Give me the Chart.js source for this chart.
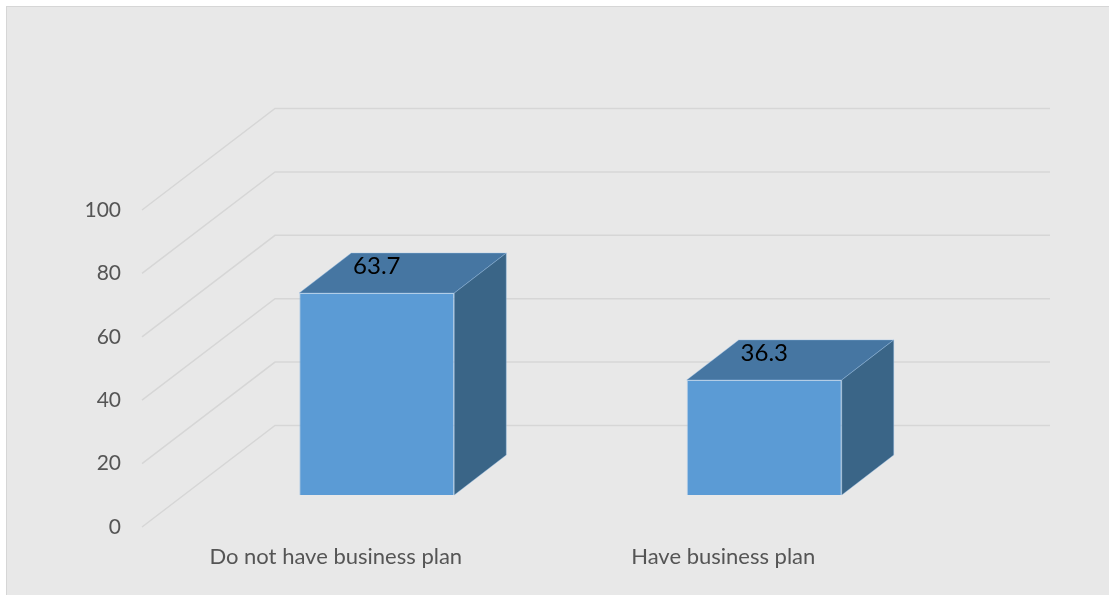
<!DOCTYPE html>
<html>
<head>
<meta charset="utf-8">
<script src="https://cdn.jsdelivr.net/npm/chart.js@4/dist/chart.umd.min.js"></script>
<style>
  html, body { margin: 0; padding: 0; background: #ffffff; }
  #panel {
    position: absolute; left: 6px; top: 6px; right: 0; bottom: 0;
    background: #e8e8e8;
    border-left: 1px solid #d6d6d6;
    border-top: 1px solid #d6d6d6;
  }
  #grafic { position: absolute; left: 0; top: 0; }
</style>
</head>
<body>
<div id="panel"></div>
<canvas id="grafic" width="1109" height="595"></canvas>
<script>
const categorii = ['Do not have business plan', 'Have business plan'];
const procente = [63.7, 36.3];
const tickuriY = [0, 20, 40, 60, 80, 100];

// adancimea peretelui din spate si pozitia/adancimea cutiilor
const PERETE_DX = 133, PERETE_DY = -101.5;
const BARA_DX = 41, BARA_DY = -32;
const CUTIE_DX = 52, CUTIE_DY = -40;

const culoareFata = '#5b9bd5';
const culoareSus = '#4676a2';
const culoareLateral = '#3a6587';
const culoareGrila = '#d6d6d6';
const fontText = 'Lato';

// pereti 3D: linie diagonala pe podea/lateral + linie orizontala pe spate
const perete3D = {
	id: 'perete3D',
	beforeDatasetsDraw(chart) {
		const { ctx, chartArea, scales } = chart;
		ctx.save();
		ctx.strokeStyle = culoareGrila;
		ctx.lineWidth = 1.5;
		for (let v of tickuriY) {
			const y = scales.y.getPixelForValue(v);
			ctx.beginPath();
			ctx.moveTo(chartArea.left, y);
			ctx.lineTo(chartArea.left + PERETE_DX, y + PERETE_DY);
			ctx.lineTo(chartArea.right + PERETE_DX, y + PERETE_DY);
			ctx.stroke();
		}
		ctx.restore();
		// fata barelor se deseneaza mutata in adancime
		ctx.save();
		ctx.translate(BARA_DX, BARA_DY);
	},
	afterDatasetsDraw(chart) {
		const { ctx } = chart;
		ctx.restore();
		const meta = chart.getDatasetMeta(0);
		meta.data.forEach((bara, i) => {
			const p = bara.getProps(['x', 'y', 'base', 'width'], true);
			const x0 = p.x - p.width / 2 + BARA_DX;
			const x1 = p.x + p.width / 2 + BARA_DX;
			const yTop = p.y + BARA_DY;
			const yBase = p.base + BARA_DY;
			ctx.save();
			ctx.lineWidth = 0.8;
			ctx.strokeStyle = 'rgba(150,190,230,0.5)';
			// capacul
			ctx.fillStyle = culoareSus;
			ctx.beginPath();
			ctx.moveTo(x0, yTop);
			ctx.lineTo(x0 + CUTIE_DX, yTop + CUTIE_DY);
			ctx.lineTo(x1 + CUTIE_DX, yTop + CUTIE_DY);
			ctx.lineTo(x1, yTop);
			ctx.closePath();
			ctx.fill();
			ctx.stroke();
			// partea laterala
			ctx.fillStyle = culoareLateral;
			ctx.beginPath();
			ctx.moveTo(x1, yTop);
			ctx.lineTo(x1 + CUTIE_DX, yTop + CUTIE_DY);
			ctx.lineTo(x1 + CUTIE_DX, yBase + CUTIE_DY);
			ctx.lineTo(x1, yBase);
			ctx.closePath();
			ctx.fill();
			ctx.stroke();
			// eticheta cu valoarea
			ctx.fillStyle = '#000000';
			ctx.font = `24px ${fontText}`;
			ctx.textAlign = 'center';
			ctx.textBaseline = 'middle';
			ctx.fillText(String(procente[i]), p.x + BARA_DX, yTop - 27);
			ctx.restore();
		});
	}
};

new Chart(document.getElementById('grafic'), {
	type: 'bar',
	data: {
		labels: categorii,
		datasets: [{
			label: 'Procent',
			data: procente,
			backgroundColor: culoareFata,
			borderColor: 'rgba(140,185,230,0.5)',
			borderWidth: 1,
			barPercentage: 0.4,
			categoryPercentage: 1
		}]
	},
	options: {
		responsive: false,
		animation: false,
		devicePixelRatio: 1,
		layout: { padding: { left: 86, right: 192, top: 210, bottom: 26 } },
		plugins: { legend: { display: false }, tooltip: { enabled: false } },
		scales: {
			x: {
				grid: { display: false, drawTicks: false },
				border: { display: false },
				ticks: { color: '#555555', font: { family: fontText, size: 22 }, padding: 17 },
				afterFit(s) { s.height = 42; }
			},
			y: {
				min: 0,
				max: 100,
				grid: { display: false, drawTicks: false },
				border: { display: false },
				ticks: { color: '#555555', font: { family: fontText, size: 21 }, padding: 21 },
				afterBuildTicks(s) { s.ticks = tickuriY.map(v => ({ value: v })); },
				afterFit(s) { s.width = 56; }
			}
		}
	},
	plugins: [perete3D]
});
</script>
</body>
</html>
